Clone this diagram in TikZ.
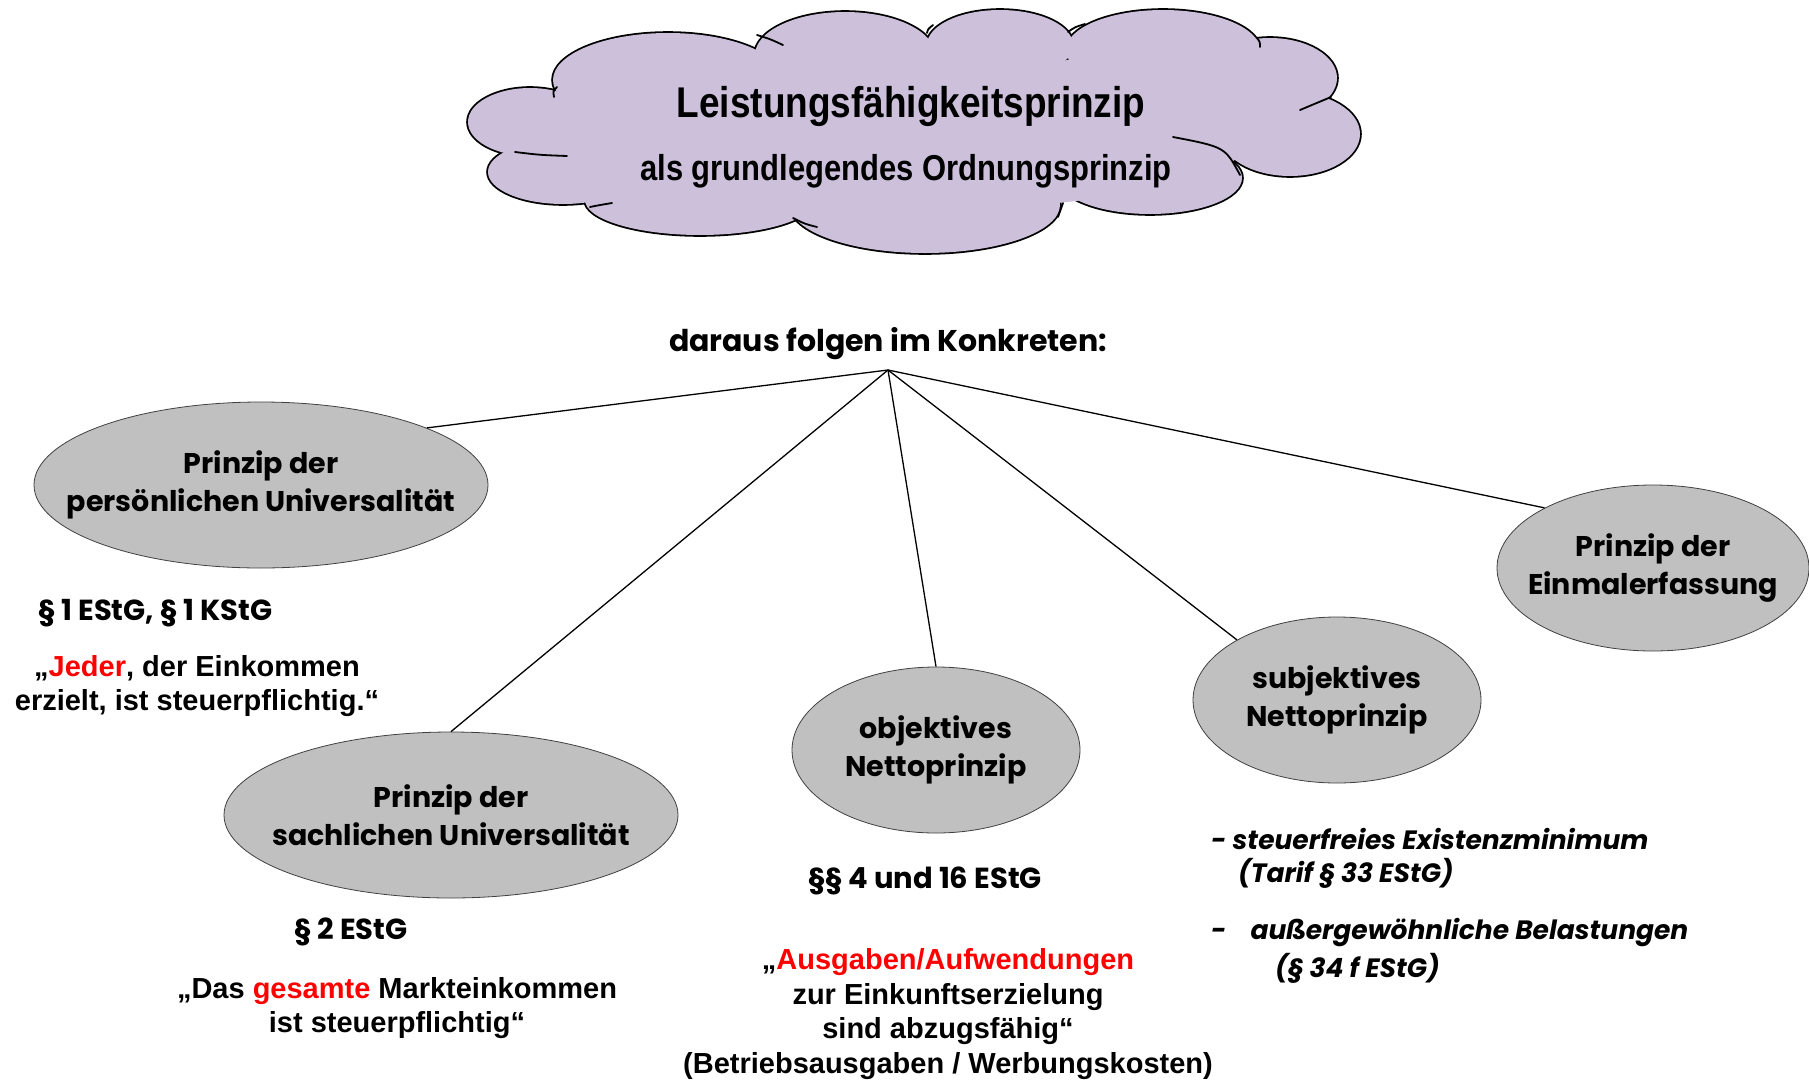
\documentclass[tikz,border=0pt]{standalone}
\usepackage{fontspec}
\setmainfont{Liberation Sans}
\newfontfamily\gothic{Poppins}
\newfontfamily\narrowfont{Liberation Sans}[FakeStretch=0.86]
\usetikzlibrary{shapes.geometric}
\definecolor{cloudfill}{RGB}{204,192,218}
\definecolor{ellfill}{RGB}{192,192,192}
\definecolor{hired}{RGB}{255,0,0}
\begin{document}
\begin{tikzpicture}[x=1pt,y=-1pt,
  oval/.style={ellipse, draw=black!75, line width=0.8pt, fill=ellfill, inner sep=0pt},
  ovaltext/.style={inner sep=0pt, font=\gothic\bfseries\fontsize{28.5}{38}\selectfont, align=center},
  link/.style={line width=1.3pt},
  quote/.style={font=\bfseries\fontsize{29}{34.5}\selectfont, align=center, inner sep=0pt},
  para/.style={font=\gothic\bfseries\fontsize{29}{34}\selectfont, inner sep=0pt},
  itemtext/.style={font=\gothic\bfseries\itshape\fontsize{26.5}{30}\selectfont, inner sep=0pt, anchor=west},
  cloudtext/.style={font=\narrowfont\bfseries, inner sep=0pt},
  cloudline/.style={line width=1.8pt, line cap=round}]
\useasboundingbox (0,0) rectangle (1809,1084);
% cloud: union of puffs
\foreach \cx/\cy/\rx/\ry in {530/122/62/34, 563/172/75/32, 700/200/115/35, 925/205/135/48,
  1150/178/92/36, 1290/134/70/42, 1270/78/67/40, 1163/50/97/40, 1000/45/73/35, 845/55/90/43, 668/80/115/47}
  \draw[line width=3.6pt] (\cx,\cy) ellipse [x radius=\rx, y radius=\ry];
\foreach \cx/\cy/\rx/\ry in {530/122/62/34, 563/172/75/32, 700/200/115/35, 925/205/135/48,
  1150/178/92/36, 1290/134/70/42, 1270/78/67/40, 1163/50/97/40, 1000/45/73/35, 845/55/90/43, 668/80/115/47,
  914/135/340/75, 1150/110/150/60, 650/130/110/60}
  \fill[cloudfill] (\cx,\cy) ellipse [x radius=\rx, y radius=\ry];
% inner strokes of the cloud
\draw[cloudline] (557,87) .. controls (553,91) .. (554,97);
\draw[cloudline] (515,152) .. controls (540,155) .. (567,156);
\draw[cloudline] (590,207) .. controls (600,205) .. (612,203);
\draw[cloudline] (793,218) .. controls (805,224) .. (817,227);
\draw[cloudline] (757,35) .. controls (770,39) .. (783,45);
\draw[cloudline] (927,33) .. controls (928,29) .. (933,25);
\draw[cloudline] (1068,32) .. controls (1075,27) .. (1085,24);
\draw[cloudline] (1257,38) .. controls (1260,42) .. (1260,47);
\draw[cloudline] (1300,110) .. controls (1315,103) .. (1331,97);
\draw[cloudline] (1173,137) .. controls (1225,147) .. (1240,175);
\draw[cloudline] (1063,203) .. controls (1061,210) .. (1058,217);
\node[cloudtext, font=\narrowfont\bfseries\fontsize{43}{50}\selectfont] (t1) at (911,106) {Leistungsfähigkeitsprinzip};
\node[cloudtext, font=\narrowfont\bfseries\fontsize{36}{42}\selectfont] (t2) at (906,171) {als grundlegendes Ordnungsprinzip};

\node[para, font=\gothic\bfseries\fontsize{30}{34}\selectfont] (daraus) at (888,344) {daraus folgen im Konkreten:};
\coordinate (hub) at (888,370);

\node[oval, minimum width=454pt, minimum height=166pt] (p1) at (261,485) {};
\node[ovaltext] (p1t) at (p1.center) {Prinzip der\\persönlichen Universalität};
\node[oval, minimum width=454pt, minimum height=166pt] (p2) at (451,815) {};
\node[ovaltext] (p2t) at (p2.center) {Prinzip der\\sachlichen Universalität};
\node[oval, minimum width=288pt, minimum height=166pt] (p3) at (936,750) {};
\node[ovaltext] (p3t) at (p3.center) {objektives\\Nettoprinzip};
\node[oval, minimum width=288pt, minimum height=166pt] (p4) at (1337,700) {};
\node[ovaltext] (p4t) at (p4.center) {subjektives\\Nettoprinzip};
\node[oval, minimum width=312pt, minimum height=166pt] (p5) at (1653,568) {};
\node[ovaltext] (p5t) at (p5.center) {Prinzip der\\Einmalerfassung};

\draw[link] (hub) -- (p1.19);
\draw[link] (hub) -- (p2.north);
\draw[link] (hub) -- (p3.north);
\draw[link] (hub) -- (p4.149);
\draw[link] (hub) -- (p5.151);

\node[para, anchor=west] (r1) at (38,613) {§ 1 EStG, § 1 KStG};
\node[quote] (q1) at (197,686) {„\textcolor{hired}{Jeder}, der Einkommen\\erzielt, ist steuerpflichtig.“};

\node[para, anchor=west] (r2) at (294,932) {§ 2 EStG};
\node[quote] (q2) at (397,1008) {„Das \textcolor{hired}{gesamte} Markteinkommen\\ist steuerpflichtig“};

\node[para] (r3) at (925,881) {§§ 4 und 16 EStG};
\node[quote] (q3) at (948,1014) {„\textcolor{hired}{Ausgaben/Aufwendungen}\\zur Einkunftserzielung\\sind abzugsfähig“\\(Betriebsausgaben / Werbungskosten)};

\node[itemtext] (i1) at (1211,839) {- steuerfreies Existenzminimum};
\node[itemtext] (i2) at (1238,873) {(Tarif § 33 EStG)};
\node[itemtext] (i3) at (1211,933) {-\hspace{24pt}außergewöhnliche Belastungen};
\node[itemtext] (i4) at (1275,968) {(§ 34 f EStG)};
\end{tikzpicture}
\end{document}
